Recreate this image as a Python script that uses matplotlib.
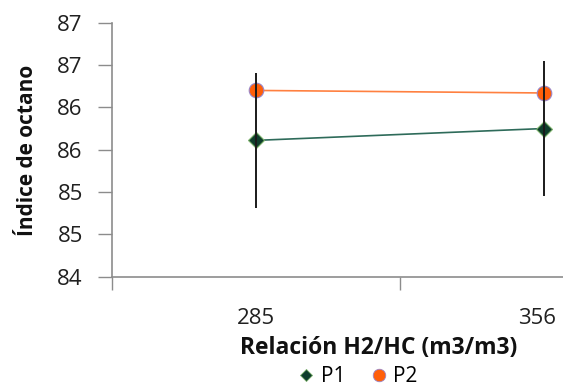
import matplotlib
matplotlib.use("Agg")
import matplotlib.pyplot as plt
from matplotlib.lines import Line2D
from matplotlib.transforms import offset_copy

# Data
categories = ["285", "356"]
p1_values = [85.61, 85.75]
p1_errors = [0.80, 0.80]
p2_values = [86.20, 86.17]
y_ticks = [84.0, 84.5, 85.0, 85.5, 86.0, 86.5, 87.0]
y_tick_labels = ["84", "85", "85", "86", "86", "87", "87"]

plt.rcParams["font.family"] = ["Open Sans", "DejaVu Sans"]

fig = plt.figure(figsize=(5.63, 3.88), dpi=100)
W, H = 563, 388
left_px, right_px = 112, 112 + 575.4
bottom_px, top_px = 276.7, 22.7
ax = fig.add_axes([left_px / W, 1 - bottom_px / H,
                   (right_px - left_px) / W, (bottom_px - top_px) / H])

x = list(range(len(categories)))
axis_grey = "#8c8c8c"

ax.plot(x, p1_values, color="#2e6b5a", lw=1.2, zorder=2)
ax.plot(x, p1_values, ls="none", marker="D", ms=8, mfc="#0e3d2b",
        mec="#7ab06a", mew=0.8, zorder=3)
ax.plot(x, p2_values, color="#ff8040", lw=1.2, zorder=2)
ax.plot(x, p2_values, ls="none", marker="o", ms=10.5, mfc="#ff5f0a",
        mec="#9a86c8", mew=0.8, zorder=3)
ax.errorbar(x, p1_values, yerr=p1_errors, fmt="none", ecolor="#1a1a1a",
            elinewidth=1.4, capsize=0, zorder=4)

ax.set_xlim(-0.5, len(categories) - 0.5)
ax.set_ylim(84, 87)
ax.set_yticks(y_ticks)
ax.set_yticklabels(y_tick_labels, fontsize=16, color="#202020")
ax.tick_params(axis="y", direction="out", length=10, width=1, color=axis_grey, pad=11)

# category boundaries carry the tick marks; category labels sit between them
ax.set_xticks([-0.5, 0.5, 1.5])
ax.set_xticklabels([])
ax.tick_params(axis="x", direction="out", length=9, width=1, color=axis_grey)
label_y = -(318 - bottom_px) / (bottom_px - top_px)
for i, (xi, lab) in enumerate(zip(x, categories)):
    trans = ax.get_xaxis_transform()
    if i == len(categories) - 1:
        # keep the last label inside the figure edge
        trans = offset_copy(trans, fig=fig, x=-5, units="points")
    ax.text(xi, label_y, lab, transform=trans,
            ha="center", va="center", fontsize=16, color="#202020",
            clip_on=False)

for side in ["top", "right"]:
    ax.spines[side].set_visible(False)
for side in ["left", "bottom"]:
    ax.spines[side].set_color(axis_grey)
    ax.spines[side].set_linewidth(1.2)

fig.text(379 / W, 1 - 348 / H, "Relación H2/HC (m3/m3)", ha="center",
         va="center", fontsize=16.5, fontweight="bold", color="#111111")
fig.text(28 / W, 1 - 150 / H, "Índice de octano", ha="center", va="center",
         rotation=90, fontsize=15, fontweight="bold", color="#111111")

handles = [
    Line2D([], [], ls="none", marker="D", ms=6.5, mfc="#0e3d2b",
           mec="#7ab06a", mew=0.6),
    Line2D([], [], ls="none", marker="o", ms=9, mfc="#ff5f0a",
           mec="#9a86c8", mew=0.6),
]
fig.legend(handles, ["P1", "P2"], loc="center", ncol=2,
           bbox_to_anchor=(358 / W, 1 - 377 / H), frameon=False,
           fontsize=15, handlelength=0.8, handletextpad=0.3,
           columnspacing=1.2, borderpad=0)

fig.savefig("out.png", dpi=100)
